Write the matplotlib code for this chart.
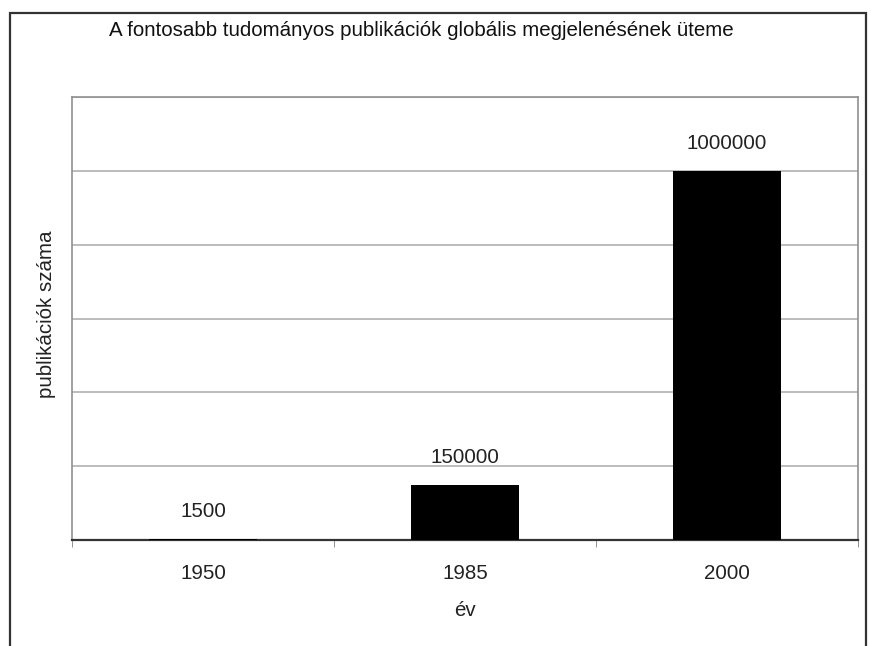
import matplotlib.pyplot as plt
from matplotlib.patches import Rectangle

# publications per year
years = ["1950", "1985", "2000"]
counts = [1500, 150000, 1000000]

plt.rcParams["font.family"] = ["Liberation Sans", "DejaVu Sans"]

fig = plt.figure(figsize=(8.71, 6.46), dpi=100)
W, H = 871, 646

# outer frame of the chart object
fig.patches.append(Rectangle((10 / W, -0.05), (866 - 10) / W, 1.05 - 13 / H,
                             transform=fig.transFigure, fill=False,
                             edgecolor="#333333", linewidth=1.6))

ax = fig.add_axes([72 / W, (H - 540) / H, (858 - 72) / W, (540 - 97) / H])

x = range(len(years))
bars = ax.bar(x, counts, width=0.41, color="black", zorder=3)
ax.bar_label(bars, labels=[str(c) for c in counts], padding=13, fontsize=14.8,
             color="#222222")

ax.set_xlim(-0.5, 2.5)
ax.set_ylim(0, 1200000)
ax.set_yticks(range(0, 1200001, 200000))
ax.tick_params(axis="y", length=0, labelleft=False)
ax.yaxis.grid(True, color="#b0b0b0", linewidth=1.2, zorder=0)

ax.set_xticks(list(x))
ax.set_xticklabels(years, fontsize=14.8, color="#222222")
ax.tick_params(axis="x", which="major", length=0, pad=17)
ax.set_xticks([-0.5, 0.5, 1.5, 2.5], minor=True)
ax.tick_params(axis="x", which="minor", length=5, color="#808080")

for side in ("top", "right", "left"):
    ax.spines[side].set_color("#909090")
    ax.spines[side].set_linewidth(1.2)
ax.spines["bottom"].set_color("#333333")
ax.spines["bottom"].set_linewidth(1.6)

ax.set_xlabel("év", fontsize=14.8, color="#222222", labelpad=13)
ax.set_ylabel("publikációk száma", fontsize=14.8, color="#222222")
ax.yaxis.set_label_coords(-0.02, 0.51)

fig.text(421 / W, 1 - 30 / H, "A fontosabb tudományos publikációk globális megjelenésének üteme",
         ha="center", va="center", fontsize=14.8, color="#111111")

fig.savefig("out.png", dpi=100)
